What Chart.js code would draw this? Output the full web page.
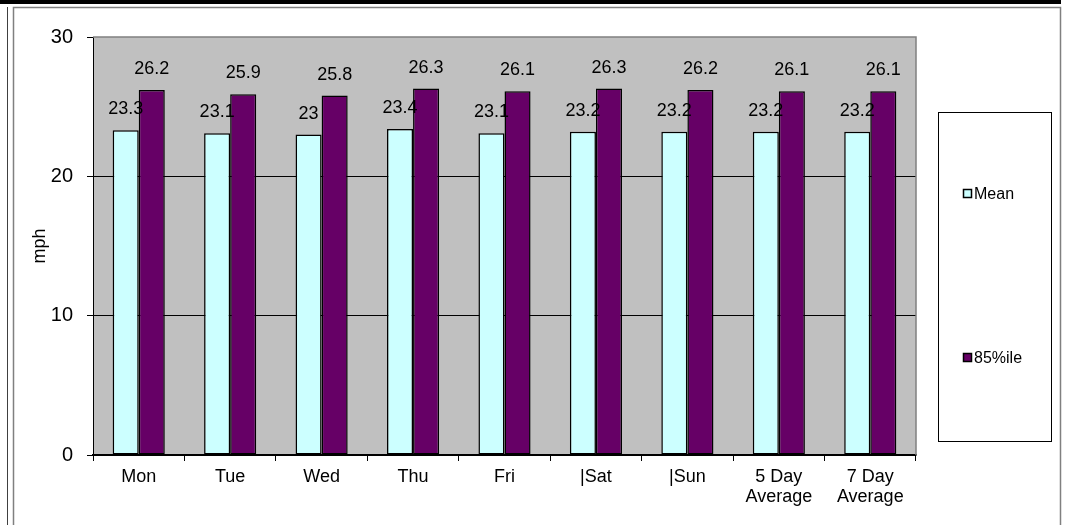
<!DOCTYPE html>
<html lang="en">
<head>
    <meta charset="UTF-8" />
    <title>Speed by Day</title>
    <script src="https://cdn.jsdelivr.net/npm/chart.js"></script>
    <style>
        html, body { margin: 0; padding: 0; background: #fff; }
        #wrap { width: 1073px; height: 525px; position: relative; }
    </style>
</head>
<body>
    <div id="wrap"><canvas id="speedChart" width="1073" height="525"></canvas></div>

    <script>
        const days = ["Mon", "Tue", "Wed", "Thu", "Fri", "|Sat", "|Sun", ["5 Day", "Average"], ["7 Day", "Average"]];
        const meanSpeeds = [23.3, 23.1, 23, 23.4, 23.1, 23.2, 23.2, 23.2, 23.2];
        const pct85Speeds = [26.2, 25.9, 25.8, 26.3, 26.1, 26.3, 26.2, 26.1, 26.1];
        const yTicks = [0, 10, 20, 30];

        const FONT = "'Liberation Sans', Arial, sans-serif";

        // frame, plot background and plot border
        const framePlugin = {
            id: 'frame',
            beforeDraw(chart) {
                const c = chart.ctx;
                const a = chart.chartArea;
                c.save();
                c.fillStyle = '#000';
                c.fillRect(0, 0, 1061, 4);
                c.strokeStyle = '#404040';
                c.lineWidth = 1;
                c.beginPath();
                c.moveTo(7.5, 7); c.lineTo(7.5, 525);
                c.stroke();
                c.strokeStyle = '#808080';
                c.lineWidth = 1.5;
                c.beginPath();
                c.moveTo(13.5, 525); c.lineTo(13.5, 7.5); c.lineTo(1060.5, 7.5); c.lineTo(1060.5, 525);
                c.stroke();
                c.fillStyle = '#c0c0c0';
                c.fillRect(a.left, a.top, a.right - a.left, a.bottom - a.top);
                c.restore();
            },
            afterDatasetsDraw(chart) {
                const c = chart.ctx;
                const a = chart.chartArea;
                c.save();
                c.strokeStyle = '#808080';
                c.lineWidth = 1.5;
                c.beginPath();
                c.moveTo(a.left, a.top); c.lineTo(a.right, a.top); c.lineTo(a.right, a.bottom);
                c.stroke();
                c.restore();
            }
        };

        // value labels above each bar
        const labelPlugin = {
            id: 'barLabels',
            afterDatasetsDraw(chart) {
                const c = chart.ctx;
                c.save();
                c.font = '18px ' + FONT;
                c.fillStyle = '#000';
                c.textAlign = 'center';
                c.textBaseline = 'alphabetic';
                chart.data.datasets.forEach((ds, i) => {
                    chart.getDatasetMeta(i).data.forEach((bar, j) => {
                        c.fillText(String(ds.data[j]), bar.x, bar.y - 16);
                    });
                });
                c.restore();
            }
        };

        // boxed legend on the right, like the spreadsheet one
        const legendBoxPlugin = {
            id: 'legendBox',
            afterDraw(chart) {
                const c = chart.ctx;
                c.save();
                c.strokeStyle = '#000';
                c.lineWidth = 1;
                c.fillStyle = '#fff';
                c.fillRect(938.5, 112.5, 113, 329);
                c.strokeRect(938.5, 112.5, 113, 329);
                const rows = [194, 358];
                chart.data.datasets.forEach((ds, i) => {
                    const y = rows[i];
                    c.fillStyle = ds.backgroundColor;
                    c.fillRect(963.5, y - 4.5, 8, 8);
                    c.lineWidth = 1.5;
                    c.strokeRect(963.5, y - 4.5, 8, 8);
                    c.fillStyle = '#000';
                    c.font = '16px ' + FONT;
                    c.textAlign = 'left';
                    c.textBaseline = 'middle';
                    c.fillText(ds.label, 974, y + 1);
                });
                c.restore();
            }
        };

        const ctx = document.getElementById('speedChart').getContext('2d');
        new Chart(ctx, {
            type: 'bar',
            data: {
                labels: days,
                datasets: [
                    {
                        label: 'Mean',
                        data: meanSpeeds,
                        backgroundColor: '#ccffff',
                        borderColor: '#000',
                        borderWidth: 1.5,
                        borderSkipped: false
                    },
                    {
                        label: '85%ile',
                        data: pct85Speeds,
                        backgroundColor: '#660066',
                        borderColor: '#000',
                        borderWidth: 1.5,
                        borderSkipped: false
                    }
                ]
            },
            options: {
                responsive: false,
                animation: false,
                events: [],
                layout: { padding: { left: 20, right: 157, top: 37, bottom: 0 } },
                datasets: { bar: { categoryPercentage: 0.57, barPercentage: 1 } },
                plugins: {
                    legend: { display: false },
                    tooltip: { enabled: false }
                },
                scales: {
                    x: {
                        offset: true,
                        afterFit: s => { s.height = 70; },
                        grid: {
                            offset: true,
                            drawOnChartArea: false,
                            drawTicks: true,
                            tickLength: 6,
                            color: '#000'
                        },
                        border: { color: '#000', width: 1.5 },
                        ticks: {
                            color: '#000',
                            font: { family: FONT, size: 18, lineHeight: 1.12 },
                            padding: 6,
                            maxRotation: 0,
                            autoSkip: false
                        }
                    },
                    y: {
                        min: 0,
                        max: 30,
                        afterFit: s => { s.width = 73; },
                        afterBuildTicks: s => { s.ticks = yTicks.map(v => ({ value: v })); },
                        grid: {
                            color: c => (c.tick && c.tick.value === 30) ? 'rgba(0,0,0,0)' : '#000',
                            tickColor: '#000',
                            tickLength: 6,
                            lineWidth: 1
                        },
                        border: { color: '#000', width: 1 },
                        ticks: {
                            color: '#000',
                            font: { family: FONT, size: 20 },
                            padding: 14
                        },
                        title: {
                            display: true,
                            text: 'mph',
                            color: '#000',
                            font: { family: FONT, size: 18 },
                            padding: { top: 9, bottom: 0 }
                        }
                    }
                }
            },
            plugins: [framePlugin, labelPlugin, legendBoxPlugin]
        });
    </script>
</body>
</html>
